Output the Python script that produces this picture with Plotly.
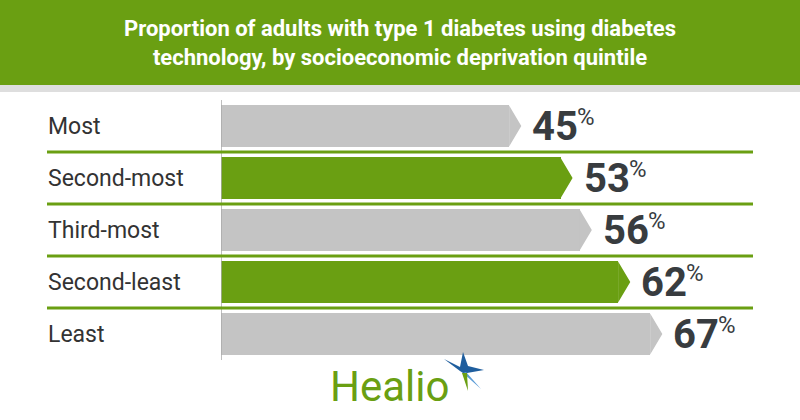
import plotly.graph_objects as go

# ---- data ----
categories = ["Most", "Second-most", "Third-most", "Second-least", "Least"]
values = [45, 53, 56, 62, 67]
title_lines = ["Proportion of adults with type 1 diabetes using diabetes",
               "technology, by socioeconomic deprivation quintile"]

GREEN = "#6a9f12"
GRAY = "#c4c4c4"
DARK = "#383c3f"

W, H = 800, 420
ML, MR, MT, MB = 221, 0, 100, 60
PW = W - ML - MR
PH = H - MT - MB
PX_PER_UNIT = 6.41
XMAX = PW / PX_PER_UNIT


def px_to_paper_x(px):
    return (px - ML) / PW


def py_to_paper_y(py):
    return (H - MB - py) / PH


ypos = list(range(len(categories)))
colors = [GRAY if i % 2 == 0 else GREEN for i in ypos]
bw = 0.79
tip = 1.85

fig = go.Figure()
fig.add_trace(go.Bar(
    y=ypos, x=values, orientation="h", width=bw,
    marker=dict(color=colors, line=dict(width=0)),
    hoverinfo="skip", showlegend=False,
))

# arrow tips, one polygon per bar and colour
for col in (GRAY, GREEN):
    xs, ys = [], []
    for i, v in enumerate(values):
        if colors[i] != col:
            continue
        xs += [v - 0.05, v + tip, v - 0.05, v - 0.05, None]
        ys += [i - bw / 2, i, i + bw / 2, i - bw / 2, None]
    fig.add_trace(go.Scatter(
        x=xs, y=ys, mode="lines", fill="toself", fillcolor=col,
        line=dict(width=0, color=col), hoverinfo="skip", showlegend=False,
    ))

shapes = []
annotations = []

# title band
shapes.append(dict(type="rect", xref="paper", yref="paper",
                   x0=px_to_paper_x(0), x1=px_to_paper_x(W),
                   y0=py_to_paper_y(85), y1=py_to_paper_y(0),
                   fillcolor=GREEN, line=dict(width=0), layer="below"))
shapes.append(dict(type="rect", xref="paper", yref="paper",
                   x0=px_to_paper_x(0), x1=px_to_paper_x(W),
                   y0=py_to_paper_y(92), y1=py_to_paper_y(85),
                   fillcolor="#dedede", line=dict(width=0), layer="below"))

# vertical axis line
shapes.append(dict(type="line", xref="x", yref="paper", x0=0, x1=0,
                   y0=0, y1=1, line=dict(color="#aaaaaa", width=1.5)))

# separators
for i in range(len(categories) - 1):
    shapes.append(dict(type="line", xref="paper", yref="y",
                       x0=px_to_paper_x(47), x1=px_to_paper_x(753),
                       y0=i + 0.5, y1=i + 0.5,
                       line=dict(color=GREEN, width=3)))

# category labels
for i, c in enumerate(categories):
    annotations.append(dict(xref="paper", yref="y", x=px_to_paper_x(46), y=i,
                            text=c, showarrow=False, xanchor="left",
                            yanchor="middle",
                            font=dict(family="Roboto", size=23, color="#333333")))

# value labels with superscript percent sign
for i, v in enumerate(values):
    annotations.append(dict(xref="x", yref="y", x=v + tip, y=i,
                            text=f"{v}", showarrow=False,
                            xanchor="left", yanchor="middle", xshift=9,
                            yshift=0,
                            font=dict(family="Roboto", size=40, color=DARK,
                                      weight="bold")))
    annotations.append(dict(xref="x", yref="y", x=v + tip, y=i,
                            text="%", showarrow=False,
                            xanchor="left", yanchor="middle", xshift=54,
                            yshift=9,
                            font=dict(family="Roboto", size=24, color=DARK)))

# title
annotations.append(dict(xref="paper", yref="paper", x=px_to_paper_x(400),
                        y=py_to_paper_y(43), text="<br>".join(title_lines),
                        showarrow=False, xanchor="center", yanchor="middle",
                        font=dict(family="Roboto", size=22, color="white",
                                  weight="bold")))

# logo
annotations.append(dict(xref="paper", yref="paper", x=px_to_paper_x(389),
                        y=py_to_paper_y(386), text="Healio", showarrow=False,
                        xanchor="center", yanchor="middle",
                        font=dict(family="Roboto", size=42, color=GREEN)))
star_anchor = dict(xref="paper", yref="paper", xsizemode="pixel",
                   ysizemode="pixel", xanchor=px_to_paper_x(463),
                   yanchor=py_to_paper_y(369), line=dict(width=0))
shapes.append(dict(type="path",
                   path="M -19 10 L -3 2 L 0 17 L 5 3 L 21 -1 L 4 -4 L 0 -4 L -3 -2 Z",
                   fillcolor="#1f5e9e", **star_anchor))
shapes.append(dict(type="path", path="M 3 -3 L 18 -20 L 0 -4 Z",
                   fillcolor="#5a9bd6", **star_anchor))
shapes.append(dict(type="path", path="M -1 -4 L 4 -4 L 5 -22 Z",
                   fillcolor=GREEN, **star_anchor))

fig.update_layout(
    width=W, height=H,
    margin=dict(l=ML, r=MR, t=MT, b=MB),
    paper_bgcolor="white", plot_bgcolor="white",
    xaxis=dict(range=[0, XMAX], visible=False, fixedrange=True),
    yaxis=dict(range=[len(categories) - 0.5, -0.5], visible=False,
               fixedrange=True),
    shapes=shapes, annotations=annotations, bargap=0,
)

fig.write_html("out.html", config={"displayModeBar": False})
